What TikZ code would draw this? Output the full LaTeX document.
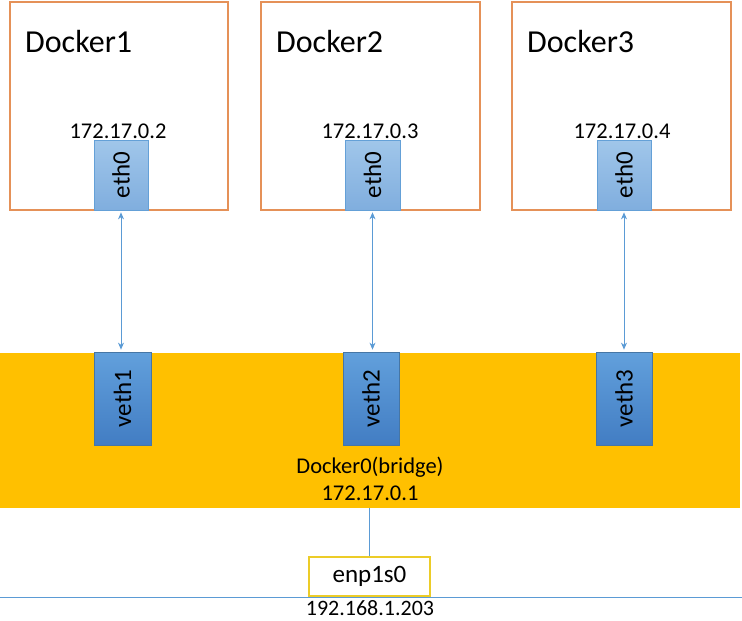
\documentclass[tikz,border=0pt]{standalone}
\usepackage{fontspec}
\setmainfont{Carlito}
\usetikzlibrary{arrows.meta,shadings}
\definecolor{boxorange}{RGB}{229,145,88}
\definecolor{ethfill}{RGB}{160,198,234}
\definecolor{ethfillb}{RGB}{128,174,222}
\definecolor{ethline}{RGB}{100,160,215}
\definecolor{vethtop}{RGB}{98,160,220}
\definecolor{vethbot}{RGB}{66,125,195}
\definecolor{vethline}{RGB}{70,118,165}
\definecolor{bridgeyellow}{RGB}{255,192,0}
\definecolor{enpyellow}{RGB}{236,204,40}
\definecolor{linkblue}{RGB}{91,155,213}
\tikzset{
  container/.style={draw=boxorange, line width=1.3pt, fill=white, minimum height=208pt, inner sep=0pt},
  ethbox/.style={draw=ethline, line width=0.8pt, top color=ethfill, bottom color=ethfillb, minimum height=70pt, inner sep=0pt},
  vethbox/.style={draw=vethline, line width=0.8pt, top color=vethtop, bottom color=vethbot, minimum height=93pt, inner sep=0pt},
  bigtxt/.style={font=\fontsize{32}{36}\selectfont, inner sep=0pt},
  iptxt/.style={font=\fontsize{22.5}{26}\selectfont, inner sep=0pt},
  rottxt/.style={font=\fontsize{25}{28}\selectfont, rotate=90, inner sep=0pt},
  link/.style={draw=linkblue, line width=0.7pt, {Stealth[length=7pt,width=6pt]}-{Stealth[length=7pt,width=6pt]}, shorten <=2pt, shorten >=2pt},
}
\begin{document}
\begin{tikzpicture}[x=1pt,y=-1pt]
\useasboundingbox (0,0) rectangle (742,621);
% containers
\node[container, minimum width=218pt] (d1) at (119,106) {};
\node[container, minimum width=219pt] (d2) at (370.5,106) {};
\node[container, minimum width=219pt] (d3) at (621.5,106) {};
\node[bigtxt, anchor=west] (d1t) at (25,41) {Docker1};
\node[bigtxt, anchor=west] (d2t) at (276,41) {Docker2};
\node[bigtxt, anchor=west] (d3t) at (527,41) {Docker3};
% eth0
\node[ethbox, minimum width=54pt] (e1) at (121,175) {};
\node[ethbox, minimum width=55pt] (e2) at (372.5,175) {};
\node[ethbox, minimum width=54pt] (e3) at (624,175) {};
\node[rottxt] (e1t) at (e1.center) {eth0};
\node[rottxt] (e2t) at (e2.center) {eth0};
\node[rottxt] (e3t) at (e3.center) {eth0};
\node[iptxt] (ip1) at (118,131) {172.17.0.2};
\node[iptxt] (ip2) at (370,131) {172.17.0.3};
\node[iptxt] (ip3) at (622,131) {172.17.0.4};
% bridge
\node[fill=bridgeyellow, minimum width=740pt, minimum height=155pt, inner sep=0pt] (br) at (370,430.5) {};
\node[vethbox, minimum width=57pt] (v1) at (122.5,398.5) {};
\node[vethbox, minimum width=56pt] (v2) at (371,398.5) {};
\node[vethbox, minimum width=56pt] (v3) at (624,398.5) {};
\node[rottxt] (v1t) at (v1.center) {veth1};
\node[rottxt] (v2t) at (v2.center) {veth2};
\node[rottxt] (v3t) at (v3.center) {veth3};
\node[iptxt] (brt) at (370,467) {Docker0(bridge)};
\node[iptxt] (brip) at (370,493) {172.17.0.1};
% host
\node[draw=enpyellow, line width=1.3pt, fill=white, minimum width=121pt, minimum height=39pt, inner sep=0pt, font=\fontsize{25}{28}\selectfont] (enp) at (369.5,576.5) {enp1s0};
\coordinate (l0) at (0,597);
\coordinate (l1) at (742,597);
\draw[linkblue, line width=1pt] (l0) -- (l1);
\node[iptxt, font=\fontsize{22}{26}\selectfont] (hip) at (370,608.5) {192.168.1.203};
% links
\draw[link] (e1.south) -- (v1.north -| e1.south);
\draw[link] (e2.south) -- (v2.north -| e2.south);
\draw[link] (e3.south) -- (v3.north -| e3.south);
\draw[linkblue, line width=0.7pt] (enp.north |- br.south) -- (enp.north);
\end{tikzpicture}
\end{document}
